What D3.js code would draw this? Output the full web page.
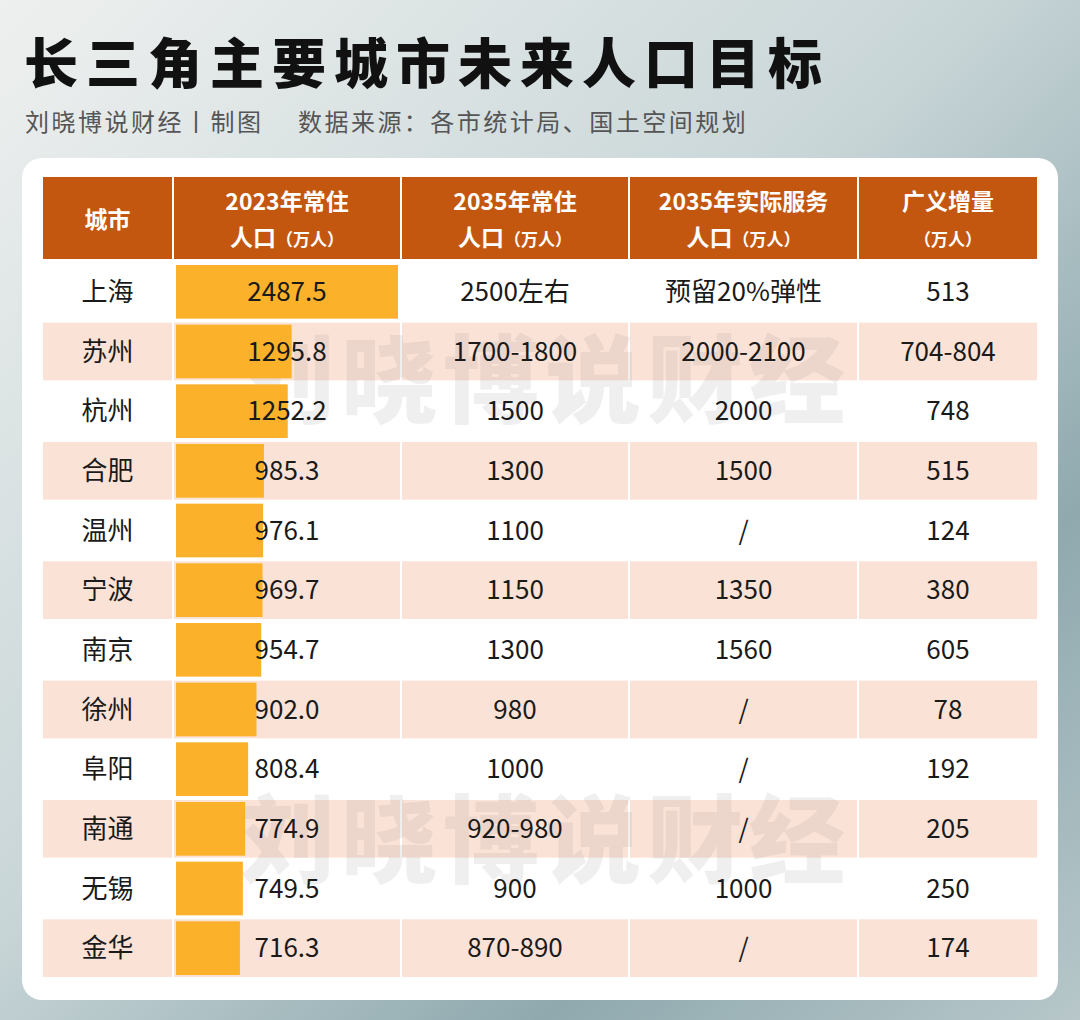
<!DOCTYPE html>
<html><head><meta charset="utf-8">
<script src="https://cdn.jsdelivr.net/npm/d3@7"></script>
<style>body{margin:0}svg{display:block}</style>
</head><body>
<div id="chart"></div>
<script>
// 数据
const cities = ['上海','苏州','杭州','合肥','温州','宁波','南京','徐州','阜阳','南通','无锡','金华'];
const pop2023 = [2487.5,1295.8,1252.2,985.3,976.1,969.7,954.7,902.0,808.4,774.9,749.5,716.3];
const pop2035 = ['2500左右','1700-1800','1500','1300','1100','1150','1300','980','1000','920-980','900','870-890'];
const service2035 = ['预留20%弹性','2000-2100','2000','1500','/','1350','1560','/','/','/','1000','/'];
const increment = ['513','704-804','748','515','124','380','605','78','192','205','250','174'];
const headers = [['城市'],['2023年常住','人口（万人）'],['2035年常住','人口（万人）'],['2035年实际服务','人口（万人）'],['广义增量','（万人）']];

const W = 1080, H = 1020;
const font = '"Noto Sans CJK SC", "Noto Sans", sans-serif';
const svg = d3.select('#chart').append('svg').attr('width', W).attr('height', H);

const defs = svg.append('defs');
const bg = defs.append('linearGradient').attr('id','bg').attr('x1',0).attr('y1',0).attr('x2',1).attr('y2',1);
bg.append('stop').attr('offset','0%').attr('stop-color','#eef0ef');
bg.append('stop').attr('offset','45%').attr('stop-color','#c9d6d8');
bg.append('stop').attr('offset','75%').attr('stop-color','#8fa9ae');
bg.append('stop').attr('offset','100%').attr('stop-color','#b7c7ca');
svg.append('rect').attr('width',W).attr('height',H).attr('fill','url(#bg)');

svg.append('text').attr('x',24).attr('y',84).attr('font-family',font).attr('font-weight',900)
  .attr('font-size',54).attr('fill','#111').attr('letter-spacing',8).text('长三角主要城市未来人口目标');
svg.append('text').attr('x',25).attr('y',131).attr('font-family',font)
  .attr('font-size',24).attr('fill','#555').attr('letter-spacing',2.5).text('刘晓博说财经丨制图　 数据来源：各市统计局、国土空间规划');

svg.append('rect').attr('x',22).attr('y',158).attr('width',1036).attr('height',842).attr('rx',20).attr('fill','#fff');

const colEdges = [42,173,401,629,858,1038];
const headTop = 177, headBot = 259, rowTop = 262, rowBot = 978;
const y = d3.scaleBand().domain(cities).range([rowTop,rowBot]);
const x = d3.scaleLinear().domain([0, 2487.5]).range([0, 222]);

// 表头
const g = svg.append('g');
headers.forEach((h,i)=>{
  g.append('rect').attr('x',colEdges[i]+1).attr('y',headTop).attr('width',colEdges[i+1]-colEdges[i]-2)
    .attr('height',headBot-headTop).attr('fill','#c4570f');
  const cx = (colEdges[i]+colEdges[i+1])/2;
  const t = g.append('text').attr('x',cx).attr('text-anchor','middle').attr('font-family',font)
    .attr('font-weight',700).attr('fill','#fff').attr('font-size',23);
  if (h.length===1) t.attr('y',228).text(h[0]);
  else {
    t.append('tspan').attr('x',cx).attr('y',210).text(h[0]);
    const t2 = t.append('tspan').attr('x',cx).attr('y',246);
    const m = h[1].match(/^([^（]*)(（.*）)$/);
    if (m[1]) t2.append('tspan').text(m[1]);
    t2.append('tspan').attr('font-size',17).text(m[2]);
  }
});

// 行背景
cities.forEach((c,r)=>{
  colEdges.slice(0,-1).forEach((e,i)=>{
    g.append('rect').attr('x',e+1).attr('y',y(c)+1).attr('width',colEdges[i+1]-e-2)
      .attr('height',y.bandwidth()-2).attr('fill', r%2 ? '#fbe2d6' : '#ffffff');
  });
});

// 水印
[380,840].forEach(wy=>{
  svg.append('text').attr('x',545).attr('y',wy+35).attr('text-anchor','middle').attr('font-family',font)
    .attr('font-weight',900).attr('font-size',96).attr('fill','#999').attr('opacity',0.15)
    .attr('letter-spacing',6).text('刘晓博说财经');
});

// 条形
svg.append('g').selectAll('rect').data(pop2023).join('rect')
  .attr('x',176).attr('y',(d,i)=>y(cities[i])+3).attr('height',y.bandwidth()-6)
  .attr('width',d=>x(d)).attr('fill','#fbb22a');

// 文本
const cols = [cities, pop2023.map(d=>d.toFixed(1)), pop2035, service2035, increment];
const tg = svg.append('g').attr('font-family',font).attr('font-size',26).attr('fill','#1a1a1a').attr('text-anchor','middle');
cols.forEach((col,i)=>{
  const cx = (colEdges[i]+colEdges[i+1])/2;
  col.forEach((v,r)=>{
    tg.append('text').attr('x',cx).attr('y',y(cities[r])+y.bandwidth()/2+9).text(v);
  });
});
</script>
</body></html>
